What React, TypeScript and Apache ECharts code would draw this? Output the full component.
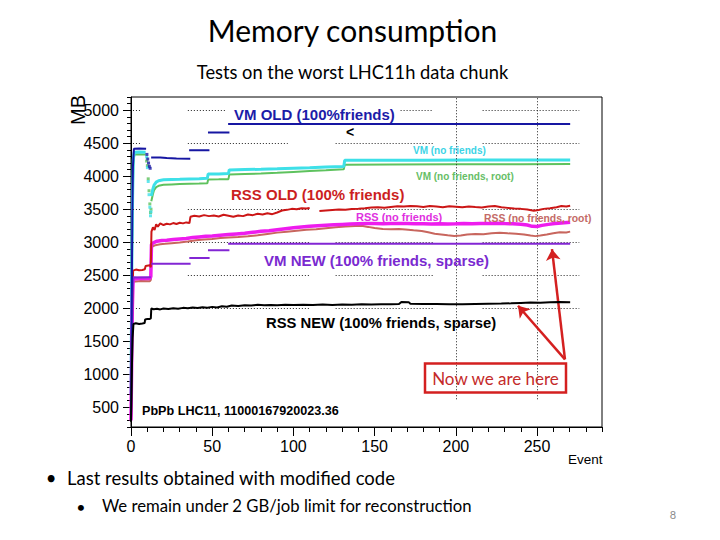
import React, { useEffect, useRef } from "react";
import * as echarts from "echarts";

type P = [number, number] | null;

// ---- data (event, MB) ----
const vmOld: P[] = [
  [0, 320], [0.4, 1900], [0.8, 3400], [1.2, 4150], [1.8, 4415], [5, 4420], [9.3, 4415],
  null,
  [12.4, 4285], [18, 4283], [22, 4275], [28, 4268], [36.5, 4265],
  null,
  [35.8, 4392], [48.3, 4392],
  null,
  [47.4, 4662], [60.6, 4662],
  null,
  [59.8, 4792], [270.4, 4792],
];
const vmOldDots: [number, number][] = [[9.8, 4330], [10.3, 4260], [10.8, 4200], [11.3, 4150], [11.8, 4120]];

const vmNew: P[] = [
  [0, 300], [0.5, 1500], [1, 2250], [1.5, 2470], [6, 2465], [12.2, 2470],
  null,
  [12.5, 2675], [36.7, 2675],
  null,
  [35.9, 2760], [48.4, 2760],
  null,
  [47.4, 2878], [60.6, 2878],
  null,
  [59.8, 2975], [270.4, 2975],
];

const rssNew: P[] = [
  [0, 280], [0.3, 700], [0.6, 1150], [1, 1550], [1.5, 1760], [3, 1772], [5, 1760], [7, 1768], [8.4, 1775],
  [8.7, 1830], [10, 1835], [11.6, 1838], [12.2, 1845], [12.5, 1995], [14, 1985], [16, 1990], [18, 1982],
  [20, 1995], [23, 1988], [26, 2000], [29, 1992], [32, 2005], [35, 1998], [38, 2010], [41, 2003], [44, 2015],
  [47, 2008], [50, 2020], [53, 2012], [56, 2030], [59, 2022], [62, 2040], [66, 2035], [70, 2045], [74, 2040],
  [78, 2052], [82, 2044], [86, 2050], [90, 2046], [95, 2052], [100, 2048], [106, 2052], [112, 2050],
  [118, 2055], [124, 2050], [130, 2055], [136, 2052], [142, 2058], [148, 2055], [154, 2060], [160, 2058],
  [165, 2062], [166.5, 2095], [171, 2092], [172, 2068], [180, 2064], [188, 2062], [196, 2060], [204, 2058],
  [212, 2062], [220, 2066], [228, 2070], [234, 2074], [240, 2080], [246, 2086], [252, 2083], [258, 2090],
  [264, 2095], [270.4, 2090],
];

const rssOld: P[] = [
  [0, 300], [0.4, 1300], [0.8, 2100], [1.3, 2570], [3, 2585], [5, 2575], [7, 2580], [8.5, 2590], [9, 2640],
  [11.6, 2650], [12.2, 2620], [12.6, 3160], [13.5, 3225], [14.5, 3185], [15.5, 3270], [16.5, 3235], [18, 3285],
  [20, 3260], [22, 3280], [24, 3270], [26, 3290], [28, 3275], [30, 3295], [32, 3285], [34, 3300], [36, 3290],
  [36.6, 3385], [39, 3400], [42, 3390], [45, 3410], [48, 3395], [51, 3405], [54, 3390], [57, 3415], [60, 3400],
  [63, 3385], [66, 3405], [69, 3395], [72, 3420], [75, 3410], [78, 3430], [81, 3420], [84, 3440], [87, 3425],
  [90, 3450], [93, 3480], [96, 3490], [99, 3505], [102, 3500], [105, 3515], [108, 3510], [110, 3518],
  null,
  [116, 3472], [120, 3480], [124, 3488], [128, 3495], [132, 3490], [136, 3502], [140, 3508], [144, 3515],
  [148, 3525], [152, 3530], [156, 3522], [160, 3535], [164, 3545], [168, 3540], [172, 3550], [176, 3545],
  [180, 3535], [184, 3548], [188, 3540], [192, 3530], [196, 3545], [200, 3538], [204, 3528], [208, 3540],
  [212, 3532], [216, 3525], [220, 3540], [224, 3548], [228, 3530], [232, 3520], [236, 3512], [240, 3505],
  [244, 3495], [248, 3478], [251, 3488], [254, 3505], [258, 3515], [262, 3530], [265, 3548], [268, 3540],
  [270.4, 3552],
];

const rssNoFriends: P[] = [
  [0, 300], [0.4, 1200], [0.8, 2000], [1.3, 2440], [6, 2455], [11.6, 2450], [12.2, 2480], [12.6, 2965],
  [14, 2995], [16, 3015], [19, 3025], [22, 3030], [26, 3040], [30, 3050], [34, 3055], [38, 3070], [42, 3080],
  [46, 3090], [50, 3095], [55, 3105], [60, 3115], [65, 3125], [70, 3135], [75, 3150], [80, 3165], [85, 3175],
  [90, 3190], [95, 3205], [100, 3220], [105, 3230], [110, 3240], [115, 3250], [120, 3258], [125, 3264],
  [130, 3270], [135, 3276], [140, 3280], [145, 3284], [150, 3282], [155, 3278], [160, 3282], [165, 3285],
  [170, 3283], [175, 3278], [180, 3280], [185, 3276], [190, 3278], [195, 3275], [200, 3278], [205, 3282],
  [210, 3280], [215, 3285], [220, 3283], [225, 3288], [230, 3282], [235, 3278], [240, 3272], [244, 3260],
  [247, 3240], [250, 3238], [253, 3255], [257, 3270], [261, 3282], [265, 3292], [270.4, 3302],
];

const rssNoFriendsRoot: P[] = [
  [0, 300], [0.4, 1100], [0.8, 1900], [1.3, 2400], [6, 2412], [11.6, 2408], [12.2, 2430], [12.6, 2925],
  [15, 2955], [18, 2968], [21, 2975], [25, 2985], [30, 2995], [35, 3010], [40, 3030], [45, 3040], [50, 3050],
  [55, 3062], [60, 3072], [66, 3080], [72, 3090], [78, 3105], [84, 3125], [90, 3145], [96, 3160], [102, 3175],
  [108, 3188], [114, 3198], [120, 3212], [126, 3225], [132, 3238], [138, 3245], [142, 3248], [146, 3232],
  [150, 3215], [155, 3200], [160, 3198], [165, 3200], [169, 3194], [174, 3180], [179, 3170], [183, 3150],
  [187, 3128], [191, 3118], [195, 3105], [199, 3095], [203, 3100], [207, 3115], [212, 3125], [217, 3120],
  [222, 3135], [227, 3145], [232, 3135], [237, 3128], [242, 3118], [246, 3100], [249, 3092], [252, 3102],
  [256, 3118], [260, 3135], [264, 3150], [268, 3148], [270.4, 3160],
];

const vmNoFriends: P[] = [
  [0, 700], [0.3, 1900], [0.6, 2900], [1, 3700], [1.4, 4250], [2, 4362], [5, 4365], [9, 4362],
  null,
  [12.5, 3700], [13.4, 3800], [14.2, 3865], [15.5, 3910], [17, 3932], [20, 3945], [25, 3950], [30, 3952],
  [36, 3958], [42, 3962], [47, 3968], [47.5, 4032], [54, 4035], [60, 4040], [60.5, 4095], [70, 4100],
  [80, 4105], [90, 4112], [100, 4120], [110, 4128], [120, 4138], [131, 4148], [131.6, 4240], [150, 4242],
  [180, 4243], [210, 4244], [240, 4244], [270.4, 4245],
];
const vmNoFriendsDots: [number, number][] = [
  [9.6, 4290], [10.1, 4130], [10.6, 3920], [11.1, 3720], [11.6, 3530], [12.0, 3400], [12.3, 3460],
];

const vmNoFriendsRoot: P[] = [
  [0, 500], [0.3, 1700], [0.6, 2800], [1, 3550], [1.4, 4150], [2, 4330], [5, 4332], [9, 4330],
  null,
  [12.5, 3620], [13.4, 3720], [14.2, 3790], [15.5, 3835], [17, 3855], [20, 3870], [25, 3875], [30, 3880],
  [36, 3885], [42, 3888], [47, 3892], [47.5, 3950], [54, 3952], [60, 3955], [60.5, 4025], [70, 4032],
  [80, 4040], [90, 4052], [100, 4065], [110, 4078], [120, 4090], [131, 4105], [131.6, 4175], [160, 4178],
  [200, 4180], [240, 4182], [270.4, 4183],
];
const vmNoFriendsRootDots: [number, number][] = [
  [9.6, 4230], [10.1, 4160], [10.6, 3960], [11.1, 3780], [11.6, 3580], [12.0, 3450], [12.3, 3500],
];

// axis ticks / labels
const xMajorTicks = [0, 50, 100, 150, 200, 250];
const yMajorTicks = [500, 1000, 1500, 2000, 2500, 3000, 3500, 4000, 4500, 5000];

// dotted grid pieces (MB level, event spans)
const gridRows: [number, number[][]][] = [
  [5000, [[1.2, 6.2], [35, 59], [166, 186], [216.5, 276]]],
  [4500, [[1.2, 6.2], [35, 96.5], [126, 186], [216.5, 276]]],
  [3500, [[1.2, 6.2], [35, 110], [126, 186], [216.5, 276]]],
  [3000, [[1.2, 6.2], [35, 110], [126, 186], [216.5, 276]]],
  [2500, [[35, 110], [126, 186], [216.5, 276]]],
  [2000, [[1.2, 6.2], [35, 110], [126, 186], [216.5, 276]]],
];
const gridCols = [200, 250];

// arrows (event, MB): from box corner to the two current values
const arrowFrom = [267.2, 1225];
const arrowTo = [
  [259.2, 2894],
  [238.3, 2037],
];

const ROOT_FONT = '"Liberation Sans", Arial, Helvetica, sans-serif';
const SLIDE_FONT = 'Lato, "Open Sans", sans-serif';

function toData(arr: P[]) {
  return arr.map((p, i) => {
    if (p) return p;
    const prev = arr[i - 1] as [number, number];
    return [prev[0], "-"];
  });
}

const seriesDefs = [
  { name: "VM (no friends, root)", data: vmNoFriendsRoot, dots: vmNoFriendsRootDots, color: "#5ec25e", width: 2 },
  { name: "VM (no friends)", data: vmNoFriends, dots: vmNoFriendsDots, color: "#3ee0e8", width: 3 },
  { name: "RSS (no friends, root)", data: rssNoFriendsRoot, dots: null, color: "#c8665e", width: 2 },
  { name: "RSS (no friends)", data: rssNoFriends, dots: null, color: "#ee1cee", width: 3.5 },
  { name: "RSS OLD (100% friends)", data: rssOld, dots: null, color: "#cc1616", width: 2 },
  { name: "VM NEW (100% friends, sparse)", data: vmNew, dots: null, color: "#8226d4", width: 2 },
  { name: "VM OLD (100%friends)", data: vmOld, dots: vmOldDots, color: "#1616a2", width: 2 },
  { name: "RSS NEW (100% friends, sparse)", data: rssNew, dots: null, color: "#000000", width: 2 },
];

const plotTexts = [
  { text: "VM OLD (100%friends)", x: 234, y: 114.5, color: "#1c1ca8", font: `bold 15px ${ROOT_FONT}` },
  { text: "<", x: 346, y: 132, color: "#000", font: `bold 14px ${ROOT_FONT}` },
  { text: "VM (no friends)", x: 413, y: 150, color: "#3cd4e6", font: `bold 10px ${ROOT_FONT}` },
  { text: "VM (no friends, root)", x: 416, y: 176, color: "#66be66", font: `bold 10px ${ROOT_FONT}` },
  { text: "RSS OLD (100% friends)", x: 231, y: 194, color: "#cc1f1f", font: `bold 15px ${ROOT_FONT}` },
  { text: "RSS (no friends)", x: 356, y: 216.5, color: "#e030e0", font: `bold 11px ${ROOT_FONT}` },
  { text: "RSS (no friends, root)", x: 484, y: 218, color: "#c46a66", font: `bold 10.4px ${ROOT_FONT}` },
  { text: "VM NEW (100% friends, sparse)", x: 264, y: 260.5, color: "#7a2ad0", font: `bold 15px ${ROOT_FONT}` },
  { text: "RSS NEW (100% friends, sparse)", x: 266, y: 323, color: "#000", font: `bold 14.8px ${ROOT_FONT}` },
  { text: "PbPb LHC11, 11000167920023.36", x: 142, y: 410.5, color: "#000", font: `bold 12.6px ${ROOT_FONT}` },
];

export default function App() {
  const ref = useRef<HTMLDivElement>(null);
  useEffect(() => {
    if (!ref.current) return;
    const chart = echarts.init(ref.current, null, { renderer: "svg" });

    const gridLineData: any[] = [];
    gridRows.forEach(([y, spans]) => {
      spans.forEach(([a, b]) => gridLineData.push([{ coord: [a, y] }, { coord: [b, y] }]));
    });
    gridCols.forEach((x) => gridLineData.push([{ coord: [x, 620] }, { coord: [x, 5200] }]));

    const lineSeries: any[] = [];
    seriesDefs.forEach((s, i) => {
      lineSeries.push({
        type: "line",
        name: s.name,
        data: toData(s.data),
        showSymbol: false,
        connectNulls: false,
        z: 3 + i,
        lineStyle: { color: s.color, width: s.width },
        itemStyle: { color: s.color },
      });
      if (s.dots) {
        lineSeries.push({
          type: "scatter",
          name: s.name + " dots",
          data: s.dots,
          symbol: "rect",
          symbolSize: 3,
          z: 3 + i,
          itemStyle: { color: s.color },
        });
      }
    });

    const series: any[] = [
      {
        type: "line",
        name: "grid",
        data: [],
        silent: true,
        z: 1,
        markLine: {
          silent: true,
          symbol: "none",
          label: { show: false },
          lineStyle: { color: "#222", width: 1, type: [1, 2] },
          data: gridLineData,
          animation: false,
        },
      },
      ...lineSeries,
      {
        type: "line",
        name: "arrows",
        data: [],
        silent: true,
        z: 20,
        markLine: {
          silent: true,
          symbol: ["none", "arrow"],
          symbolSize: 11,
          label: { show: false },
          lineStyle: { color: "#d42020", width: 2.5, type: "solid" },
          data: arrowTo.map((t) => [{ coord: arrowFrom }, { coord: t }]),
          animation: false,
        },
      },
    ];

    const graphic: any[] = [
      {
        type: "text",
        x: 352.5,
        y: 30,
        z: 100,
        style: { text: "Memory consumption", fill: "#000", font: `30px ${SLIDE_FONT}`, align: "center", verticalAlign: "middle" },
      },
      {
        type: "text",
        x: 352.5,
        y: 72,
        z: 100,
        style: { text: "Tests on the worst LHC11h data chunk", fill: "#000", font: `18.3px ${SLIDE_FONT}`, align: "center", verticalAlign: "middle" },
      },
      {
        type: "text",
        x: 78,
        y: 110,
        rotation: Math.PI / 2,
        z: 100,
        style: { text: "MB", fill: "#000", font: `20px ${ROOT_FONT}`, align: "center", verticalAlign: "middle" },
      },
      {
        type: "text",
        x: 568,
        y: 459,
        z: 100,
        style: { text: "Event", fill: "#000", font: `13.5px ${ROOT_FONT}`, align: "left", verticalAlign: "middle" },
      },
      ...plotTexts.map((t) => ({
        type: "text",
        x: t.x,
        y: t.y,
        z: 100,
        style: { text: t.text, fill: t.color, font: t.font, align: "left", verticalAlign: "middle" },
      })),
      {
        type: "rect",
        z: 100,
        shape: { x: 425, y: 363.5, width: 141, height: 29 },
        style: { fill: "none", stroke: "#d42020", lineWidth: 2.5 },
      },
      {
        type: "text",
        x: 495.5,
        y: 378,
        z: 101,
        style: { text: "Now we are here", fill: "#c42a2a", font: `17px ${SLIDE_FONT}`, align: "center", verticalAlign: "middle" },
      },
      {
        type: "text",
        x: 51,
        y: 478,
        z: 100,
        style: { text: "•", fill: "#000", font: `18.5px ${SLIDE_FONT}`, align: "center", verticalAlign: "middle" },
      },
      {
        type: "text",
        x: 67,
        y: 478,
        z: 100,
        style: { text: "Last results obtained with modified code", fill: "#000", font: `18.5px ${SLIDE_FONT}`, align: "left", verticalAlign: "middle" },
      },
      {
        type: "text",
        x: 81,
        y: 506,
        z: 100,
        style: { text: "•", fill: "#000", font: `16px ${SLIDE_FONT}`, align: "center", verticalAlign: "middle" },
      },
      {
        type: "text",
        x: 102,
        y: 506,
        z: 100,
        style: { text: "We remain under 2 GB/job limit for reconstruction", fill: "#000", font: `16.7px ${SLIDE_FONT}`, align: "left", verticalAlign: "middle" },
      },
      {
        type: "text",
        x: 673,
        y: 514,
        z: 100,
        style: { text: "8", fill: "#8c8c8c", font: `11px ${SLIDE_FONT}`, align: "center", verticalAlign: "middle" },
      },
    ];

    const option: any = {
      animation: false,
      backgroundColor: "#ffffff",
      grid: {
        left: 131,
        top: 97,
        width: 471,
        height: 330,
        show: true,
        borderColor: "#000",
        borderWidth: 1,
        backgroundColor: "transparent",
        containLabel: false,
      },
      xAxis: [
        {
          type: "value",
          min: 0,
          max: 290,
          interval: 10,
          position: "bottom",
          axisLine: { show: true, onZero: false, lineStyle: { color: "#000", width: 1 } },
          axisTick: { show: true, length: 5, lineStyle: { color: "#000" } },
          axisLabel: {
            margin: 11,
            fontSize: 16,
            fontFamily: ROOT_FONT,
            color: "#000",
            formatter: (v: number) => (v % 50 === 0 && v <= 250 ? String(v) : ""),
          },
          splitLine: { show: false },
        },
        {
          type: "value",
          min: 0,
          max: 290,
          position: "bottom",
          axisLine: { show: false },
          axisLabel: { show: false },
          splitLine: { show: false },
          axisTick: { show: true, length: 9, customValues: xMajorTicks, lineStyle: { color: "#000" } },
        },
      ],
      yAxis: [
        {
          type: "value",
          min: 200,
          max: 5200,
          interval: 100,
          position: "left",
          axisLine: { show: true, onZero: false, lineStyle: { color: "#000", width: 1 } },
          axisTick: { show: true, length: 4, lineStyle: { color: "#000" } },
          axisLabel: {
            margin: 12,
            fontSize: 16,
            fontFamily: ROOT_FONT,
            color: "#000",
            formatter: (v: number) => (v % 500 === 0 && v >= 500 && v <= 5000 ? String(v) : ""),
          },
          splitLine: { show: false },
        },
        {
          type: "value",
          min: 200,
          max: 5200,
          position: "left",
          axisLine: { show: false },
          axisLabel: { show: false },
          splitLine: { show: false },
          axisTick: { show: true, length: 8, customValues: yMajorTicks, lineStyle: { color: "#000" } },
        },
      ],
      series,
      graphic,
    };

    chart.setOption(option);
    return () => chart.dispose();
  }, []);

  return (
    <div
      ref={ref}
      style={{ position: "fixed", left: 0, top: 0, width: 720, height: 540, background: "#fff" }}
    />
  );
}
